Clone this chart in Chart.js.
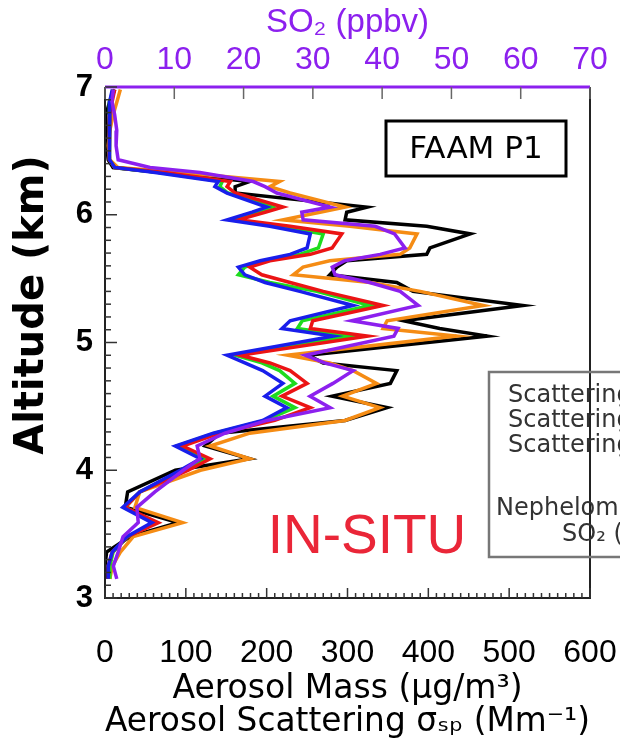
<!DOCTYPE html>
<html lang="en">

<head>
    <meta charset="UTF-8">
    <script src="https://cdn.jsdelivr.net/npm/chart.js@4.4.0/dist/chart.umd.min.js"></script>
    <title>FAAM P1 profile</title>
    <style>
        body { margin: 0; background: #fff; }
    </style>
</head>

<body>
    <canvas id="myChart" width="620" height="740"></canvas>
    <script>
        // altitude levels (km), shared by every profile
        const altitude = [6.98, 6.89, 6.78, 6.66, 6.54, 6.43, 6.37, 6.33, 6.26, 6.22, 6.17, 6.06, 6.02, 5.96, 5.91, 5.85, 5.74, 5.69, 5.64, 5.59, 5.53, 5.47, 5.40, 5.29, 5.17, 5.11, 5.05, 4.90, 4.84, 4.78, 4.68, 4.58, 4.49, 4.39, 4.29, 4.19, 4.09, 4.00, 3.83, 3.71, 3.59, 3.48, 3.36, 3.25, 3.15];
        // aerosol mass / scattering (bottom axis)
        const blackLine = [12, 6, 1, 2, 2, 4, 10, 68, 179, 161, 161, 324, 299, 297, 398, 452, 402, 398, 299, 287, 278, 361, 381, 517, 369, 414, 473, 251, 270, 361, 353, 281, 349, 297, 142, 124, 179, 87, 28, 25, 90, 31, 2, 0, 2];
        const orangeLine = [19, 15, 10, 6, 4, 6, 16, 93, 216, 204, 229, 297, 266, 220, 303, 386, 377, 365, 278, 245, 233, 328, 390, 468, 349, 344, 435, 226, 278, 307, 336, 294, 340, 297, 179, 130, 179, 118, 43, 37, 96, 35, 19, 9, 6];
        const greenLine = [10, 6, 6, 5, 5, 6, 12, 68, 145, 142, 152, 207, 189, 157, 216, 270, 264, 241, 198, 173, 165, 204, 262, 328, 244, 238, 303, 161, 194, 216, 235, 208, 235, 198, 136, 89, 124, 99, 43, 25, 62, 28, 10, 6, 6];
        const redLine = [12, 9, 6, 5, 5, 6, 12, 74, 155, 151, 161, 220, 198, 165, 229, 293, 281, 254, 204, 179, 194, 229, 270, 344, 257, 254, 325, 167, 204, 229, 250, 219, 254, 210, 142, 96, 130, 103, 43, 25, 66, 28, 9, 4, 4];
        const blueLine = [9, 6, 6, 5, 5, 6, 12, 62, 140, 136, 151, 200, 182, 151, 204, 254, 250, 229, 192, 165, 173, 198, 241, 307, 229, 219, 282, 151, 173, 195, 220, 198, 225, 195, 134, 87, 118, 93, 43, 22, 58, 27, 9, 4, 4];
        // SO2 ppbv (top axis)
        const so2Line = [1.2, 1.0, 1.4, 1.7, 1.6, 1.9, 6.5, 13.7, 21.4, 23.1, 24.8, 32.5, 28.4, 28.6, 39.0, 41.8, 43.3, 39.7, 34.6, 32.8, 33.2, 38.2, 42.6, 45.2, 35.6, 42.3, 41.7, 28.9, 31.7, 35.8, 32.9, 29.6, 32.5, 23.4, 17.3, 13.3, 13.7, 11.3, 7.2, 4.6, 4.8, 2.6, 1.9, 1.2, 1.7];

        const purple = 'rgb(140, 32, 238)';
        const toPoints = vals => vals.map((v, i) => ({ x: v, y: altitude[i] }));

        function profile(label, vals, color, axis) {
            return {
                label: label,
                data: toPoints(vals),
                xAxisID: axis,
                borderColor: color,
                borderWidth: 3.5,
                showLine: true,
                pointRadius: 0,
                tension: 0,
                fill: false
            };
        }

        // keep the plot box fixed: no extra room for overhanging tick labels
        function noOverhang(s) {
            s.paddingLeft = 0;
            s.paddingRight = 0;
        }

        // inward ticks, frame, boxes and free text
        const decorations = {
            id: 'decorations',
            afterDatasetsDraw(chart) {
                const { ctx, chartArea: a, scales } = chart;
                ctx.save();
                ctx.lineCap = 'butt';
                // frame
                ctx.strokeStyle = '#222';
                ctx.lineWidth = 2;
                ctx.beginPath();
                ctx.moveTo(a.left, a.top);
                ctx.lineTo(a.left, a.bottom);
                ctx.lineTo(a.right, a.bottom);
                ctx.lineTo(a.right, a.top);
                ctx.stroke();
                ctx.strokeStyle = purple;
                ctx.lineWidth = 3;
                ctx.beginPath();
                ctx.moveTo(a.left, a.top);
                ctx.lineTo(a.right, a.top);
                ctx.stroke();
                // altitude ticks
                ctx.strokeStyle = '#333';
                ctx.lineWidth = 1.5;
                for (let k = 30; k <= 70; k++) {
                    const py = scales.y.getPixelForValue(k / 10);
                    const len = k % 10 === 0 ? 12 : 6;
                    ctx.beginPath();
                    ctx.moveTo(a.left, py);
                    ctx.lineTo(a.left + len, py);
                    ctx.stroke();
                }
                // bottom ticks
                for (let v = 0; v <= 600; v += 10) {
                    const px = scales.x.getPixelForValue(v);
                    const len = v % 100 === 0 ? 10 : 5;
                    ctx.beginPath();
                    ctx.moveTo(px, a.bottom);
                    ctx.lineTo(px, a.bottom - len);
                    ctx.stroke();
                }
                // top ticks
                ctx.strokeStyle = '#666';
                for (let v = 0; v <= 70; v += 10) {
                    const px = scales.x2.getPixelForValue(v);
                    ctx.beginPath();
                    ctx.moveTo(px, a.top);
                    ctx.lineTo(px, a.top + 12);
                    ctx.stroke();
                }
                ctx.restore();
            },
            afterDraw(chart) {
                const ctx = chart.ctx;
                ctx.save();
                // y axis title
                ctx.translate(33, 305);
                ctx.rotate(-Math.PI / 2);
                ctx.font = 'bold 40px "DejaVu Sans"';
                ctx.fillStyle = '#000';
                ctx.textAlign = 'center';
                ctx.textBaseline = 'middle';
                ctx.fillText('Altitude (km)', 0, 0);
                ctx.restore();

                ctx.save();
                // FAAM P1 box
                ctx.strokeStyle = '#000';
                ctx.lineWidth = 3;
                ctx.strokeRect(386, 121, 180, 55);
                ctx.font = '31px "DejaVu Sans"';
                ctx.fillStyle = '#000';
                ctx.textAlign = 'center';
                ctx.textBaseline = 'middle';
                ctx.fillText('FAAM P1', 476, 150);

                // legend box, cut by the right edge
                ctx.strokeStyle = '#777';
                ctx.lineWidth = 2.5;
                ctx.strokeRect(489, 372, 160, 185);
                ctx.font = '24px "DejaVu Sans"';
                ctx.fillStyle = '#333';
                ctx.textAlign = 'left';
                ctx.fillText('Scattering (450 nm)', 508, 396);
                ctx.fillText('Scattering (550 nm)', 508, 421);
                ctx.fillText('Scattering (700 nm)', 508, 446);
                ctx.fillText('Nephelometer Mass', 496, 509);
                ctx.fillText('SO\u2082 (ppbv)', 562, 535);

                // IN-SITU label
                ctx.font = '55px "Liberation Sans"';
                ctx.fillStyle = 'rgb(234, 38, 56)';
                ctx.textAlign = 'center';
                ctx.fillText('IN-SITU', 367, 538);
                ctx.restore();
            }
        };

        const ctx = document.getElementById('myChart').getContext('2d');
        const myChart = new Chart(ctx, {
            type: 'scatter',
            data: {
                datasets: [
                    profile('SO\u2082', so2Line, purple, 'x2'),
                    profile('Scattering 1', blueLine, 'rgb(25, 30, 235)', 'x'),
                    profile('Scattering 2', redLine, 'rgb(235, 20, 20)', 'x'),
                    profile('Scattering 3', greenLine, 'rgb(30, 220, 30)', 'x'),
                    profile('Scattering 4', orangeLine, 'rgb(245, 140, 20)', 'x'),
                    profile('Nephelometer', blackLine, '#000', 'x')
                ]
            },
            options: {
                responsive: false,
                animation: false,
                devicePixelRatio: 1,
                layout: { padding: { right: 30 } },
                plugins: {
                    legend: { display: false },
                    tooltip: { enabled: false }
                },
                scales: {
                    x: {
                        type: 'linear',
                        position: 'bottom',
                        min: 0,
                        max: 600,
                        afterFit: s => { s.height = 142; noOverhang(s); },
                        grid: { display: false, drawTicks: false },
                        border: { display: false },
                        ticks: {
                            stepSize: 100,
                            padding: 36,
                            color: '#000',
                            font: { family: 'Liberation Sans', size: 32 }
                        },
                        title: {
                            display: true,
                            text: ['Aerosol Mass (\u03bcg/m\u00b3)', 'Aerosol Scattering \u03c3\u209b\u209a (Mm\u207b\u00b9)'],
                            color: '#000',
                            font: { family: 'DejaVu Sans', size: 33, lineHeight: 1.0 },
                            padding: { top: 0, bottom: 1 }
                        }
                    },
                    x2: {
                        type: 'linear',
                        position: 'top',
                        min: 0,
                        max: 70,
                        afterFit: s => { s.height = 87; noOverhang(s); },
                        grid: { display: false, drawTicks: false },
                        border: { display: false },
                        ticks: {
                            stepSize: 10,
                            padding: 8,
                            color: purple,
                            font: { family: 'Liberation Sans', size: 32 }
                        },
                        title: {
                            display: true,
                            text: 'SO\u2082 (ppbv)',
                            color: purple,
                            font: { family: 'Liberation Sans', size: 33, lineHeight: 1.0 },
                            padding: { top: 6, bottom: 0 }
                        }
                    },
                    y: {
                        type: 'linear',
                        min: 3,
                        max: 7,
                        afterFit: s => { s.width = 105; s.paddingTop = 0; s.paddingBottom = 0; },
                        grid: { display: false, drawTicks: false },
                        border: { display: false },
                        ticks: {
                            stepSize: 1,
                            padding: 12,
                            color: '#000',
                            font: { family: 'Liberation Sans', size: 31, weight: 'bold' }
                        }
                    }
                }
            },
            plugins: [decorations]
        });
    </script>
</body>

</html>
